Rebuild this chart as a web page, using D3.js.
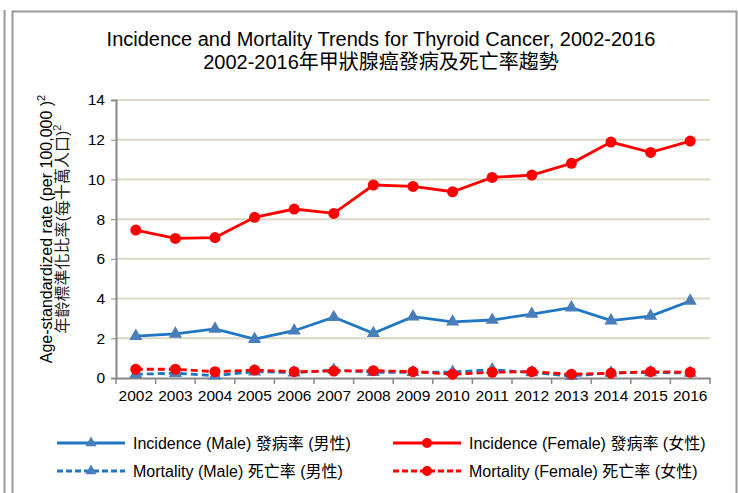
<!DOCTYPE html>
<html><head><meta charset="utf-8">
<script src="https://cdn.jsdelivr.net/npm/d3@7"></script>
<style>
html,body{margin:0;padding:0;background:#fff;}
svg{display:block;font-family:"Liberation Sans",Arial,"Noto Sans CJK TC",sans-serif;}
</style></head>
<body>
<script>
const years = ["2002","2003","2004","2005","2006","2007","2008","2009","2010","2011","2012","2013","2014","2015","2016"];
const incidenceMale   = [2.11,2.22,2.47,1.96,2.38,3.06,2.25,3.09,2.83,2.92,3.22,3.54,2.89,3.12,3.88];
const incidenceFemale = [7.45,7.03,7.07,8.09,8.51,8.29,9.72,9.65,9.38,10.10,10.22,10.81,11.88,11.36,11.93];
const mortalityMale   = [0.19,0.24,0.12,0.32,0.27,0.40,0.29,0.29,0.30,0.42,0.28,0.10,0.26,0.28,0.25];
const mortalityFemale = [0.44,0.44,0.32,0.40,0.32,0.35,0.37,0.32,0.19,0.29,0.32,0.19,0.24,0.32,0.29];
const yTicks = [0,2,4,6,8,10,12,14];
const titleLines = ["Incidence and Mortality Trends for Thyroid Cancer, 2002-2016","2002-2016年甲狀腺癌發病及死亡率趨勢"];
const seriesLabels = ["Incidence (Male) 發病率 (男性)","Incidence (Female) 發病率 (女性)","Mortality (Male) 死亡率 (男性)","Mortality (Female) 死亡率 (女性)"];

const W = 738, H = 493;
const svg = d3.select("body").append("svg").attr("width", W).attr("height", H);

// frame
svg.append("line").attr("x1",4.5).attr("x2",4.5).attr("y1",10).attr("y2",H).attr("stroke","#999").attr("stroke-width",2);
svg.append("path").attr("d",`M12.5,${H} V11.5 H736.5 V${H}`).attr("fill","none").attr("stroke","#999").attr("stroke-width",2);

const L = 116, R = 710, T = 100, B = 378;
const x = d3.scaleBand().domain(years).range([L, R]);
const y = d3.scaleLinear().domain([0,14]).range([B, T]);

// title
svg.append("text").attr("x",381).attr("y",46).attr("text-anchor","middle").attr("font-size",20).attr("fill","#000").text(titleLines[0]);
svg.append("text").attr("x",381).attr("y",69).attr("text-anchor","middle").attr("font-size",20).attr("fill","#000").text(titleLines[1]);

// gridlines
svg.append("g").selectAll("line").data(yTicks.filter(d=>d>0)).join("line")
  .attr("x1",L).attr("x2",R).attr("y1",d=>y(d)).attr("y2",d=>y(d))
  .attr("stroke","#ddd8c4").attr("stroke-width",2);

// y axis
const ya = svg.append("g").attr("transform",`translate(${L},0)`)
  .call(d3.axisLeft(y).tickValues(yTicks).tickSize(5).tickPadding(6));
ya.select(".domain").attr("stroke","#888").attr("stroke-width",2);
ya.selectAll(".tick line").attr("stroke","#888").attr("stroke-width",1);
ya.selectAll("text").attr("font-size",15.5).attr("fill","#000").attr("font-family","Liberation Sans, Arial");

// x axis
const xa = svg.append("g").attr("transform",`translate(0,${B})`)
  .call(d3.axisBottom(x).tickSize(0).tickPadding(12));
xa.select(".domain").attr("stroke","#888").attr("stroke-width",2);
xa.selectAll("text").attr("font-size",15.5).attr("fill","#000").attr("font-family","Liberation Sans, Arial");
svg.append("g").selectAll("line").data(years.concat(["end"])).join("line")
  .attr("x1",(d,i)=>L + i*x.step()).attr("x2",(d,i)=>L + i*x.step())
  .attr("y1",B).attr("y2",B+6).attr("stroke","#888").attr("stroke-width",1.5);

// y axis title
const yt = svg.append("g").attr("transform","translate(52,229) rotate(-90)");
const t1 = yt.append("text").attr("text-anchor","middle").attr("font-size",16).attr("fill","#000");
t1.append("tspan").text("Age-standardized rate (per 100,000 )");
t1.append("tspan").attr("dy",-7).attr("font-size",11).text("2");
const t2 = yt.append("text").attr("y",16).attr("text-anchor","middle").attr("font-size",16).attr("fill","#222");
t2.append("tspan").text("年齡標準化比率(每十萬人口)");
t2.append("tspan").attr("dy",-7).attr("font-size",11).text("2");

const blueLine = "#1f77c4", blueMark = "#4a7ebb", red = "#ff0000";
const tri = d3.symbol().type(d3.symbolTriangle).size(75);

function drawSeries(vals, color, markColor, dashed, marker){
  const line = d3.line().x((d,i)=>x(years[i])+x.bandwidth()/2).y(d=>y(d));
  svg.append("path").datum(vals).attr("d",line).attr("fill","none")
    .attr("stroke",color).attr("stroke-width",2.8)
    .attr("stroke-dasharray",dashed?"7,4":null);
  const g = svg.append("g");
  if(marker==="tri"){
    g.selectAll("path").data(vals).join("path").attr("d",tri)
      .attr("transform",(d,i)=>`translate(${x(years[i])+x.bandwidth()/2},${y(d)})`)
      .attr("fill",markColor);
  } else {
    g.selectAll("circle").data(vals).join("circle")
      .attr("cx",(d,i)=>x(years[i])+x.bandwidth()/2).attr("cy",d=>y(d)).attr("r",5.5)
      .attr("fill",markColor);
  }
}
drawSeries(mortalityMale, blueLine, blueMark, true, "tri");
drawSeries(mortalityFemale, red, red, true, "circle");
drawSeries(incidenceMale, blueLine, blueMark, false, "tri");
drawSeries(incidenceFemale, red, red, false, "circle");

// legend
const legendItems = [
  {label:seriesLabels[0], x:57, y:443, color:blueLine, mc:blueMark, dashed:false, m:"tri"},
  {label:seriesLabels[1], x:393, y:443, color:red, mc:red, dashed:false, m:"circle"},
  {label:seriesLabels[2], x:57, y:471, color:blueLine, mc:blueMark, dashed:true, m:"tri"},
  {label:seriesLabels[3], x:393, y:471, color:red, mc:red, dashed:true, m:"circle"}
];
legendItems.forEach(it=>{
  const g = svg.append("g");
  g.append("line").attr("x1",it.x).attr("x2",it.x+68).attr("y1",it.y).attr("y2",it.y)
    .attr("stroke",it.color).attr("stroke-width",2.8).attr("stroke-dasharray",it.dashed?"6,3":null);
  if(it.m==="tri") g.append("path").attr("d",d3.symbol().type(d3.symbolTriangle).size(55)).attr("transform",`translate(${it.x+34},${it.y})`).attr("fill",it.mc);
  else g.append("circle").attr("cx",it.x+34).attr("cy",it.y).attr("r",5).attr("fill",it.mc);
  g.append("text").attr("x",it.x+76).attr("y",it.y+5.5).attr("font-size",16).attr("fill","#000").text(it.label);
});
</script>
</body></html>
